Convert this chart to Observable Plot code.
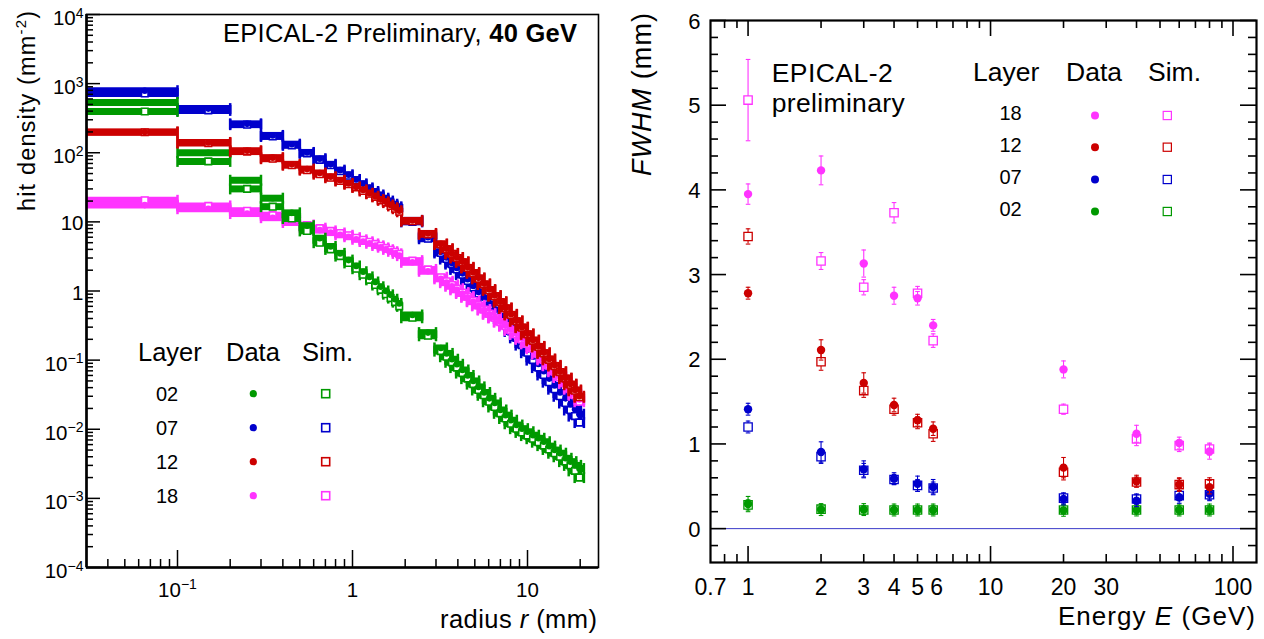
<!DOCTYPE html>
<html><head><meta charset="utf-8">
<script src="https://cdn.jsdelivr.net/npm/d3@7"></script>
<script src="https://cdn.jsdelivr.net/npm/@observablehq/plot@0.6"></script>
<style>
html,body{margin:0;padding:0;background:#fff;}
#wrap{position:relative;width:1264px;height:639px;overflow:hidden;}
#wrap svg{position:absolute;top:0;}
</style></head><body><div id="wrap"></div>
<script>
// ---------- categories ----------
const layers = ["02", "07", "12", "18"];
const layerColors = ["#009900", "#0000cc", "#cc0000", "#ff33ff"];

// ---------- left panel: hit density vs radius (40 GeV) ----------
const radius = [0.065,0.15,0.25,0.35,0.45,0.55,0.65,0.75,0.85,0.95,1.05,1.15,1.25,1.35,1.45,1.55,1.65,1.75,1.85,2.2,2.7,3.2,3.45,3.7,3.95,4.25,4.55,4.9,5.25,5.65,6.05,6.5,7.0,7.5,8.05,8.65,9.3,10.0,10.75,11.55,12.4,13.3,14.3,15.35,16.5,17.6,18.7,19.8];
const radiusHalfWidth = [0.035,0.05,0.05,0.05,0.05,0.05,0.05,0.05,0.05,0.05,0.05,0.05,0.05,0.05,0.05,0.05,0.05,0.05,0.05,0.3,0.3,0.26,0.28,0.3,0.32,0.34,0.36,0.39,0.42,0.45,0.48,0.52,0.56,0.6,0.64,0.69,0.74,0.8,0.86,0.92,0.99,1.06,1.14,1.23,1.32,1.4,1.5,1.2];

const density02Data = [535,100,40,22,13.5,8.8,5.8,4.4,3.5,2.8,2.3,1.9,1.6,1.35,1.15,1.0,0.88,0.76,0.66,0.45,0.25,0.15,0.125,0.103,0.087,0.072,0.06,0.05,0.041,0.034,0.028,0.024,0.019,0.016,0.0135,0.0115,0.0102,0.0092,0.0082,0.0074,0.0066,0.0057,0.005,0.0045,0.0038,0.0034,0.003,0.0027];
const density02Sim = [395,75,30,16.6,11.2,7.4,5.0,4.0,3.2,2.55,2.1,1.72,1.45,1.22,1.04,0.9,0.79,0.69,0.6,0.41,0.225,0.135,0.112,0.093,0.078,0.065,0.054,0.045,0.037,0.031,0.025,0.021,0.017,0.0143,0.012,0.0102,0.009,0.0081,0.0073,0.0065,0.0058,0.0051,0.0045,0.004,0.0034,0.003,0.0025,0.002];
const density07Data = [790,435,262,178,133,101,82,68,56,48,41,35.5,31,27.5,24.5,22,20,18,16.5,10.5,6.0,3.7,3.05,2.55,2.15,1.8,1.48,1.18,0.97,0.79,0.65,0.53,0.43,0.35,0.285,0.23,0.18,0.142,0.112,0.088,0.069,0.054,0.043,0.034,0.028,0.023,0.0195,0.0165];
const density07Sim = [720,410,255,172,128,98,79,66,54,46.5,40,34.5,30,26.5,23.5,21,19,17.2,15.8,10.0,5.7,3.55,2.9,2.45,2.05,1.72,1.4,1.12,0.92,0.75,0.61,0.5,0.4,0.325,0.26,0.21,0.165,0.128,0.1,0.078,0.061,0.048,0.038,0.03,0.024,0.019,0.0155,0.0125];
const density12Data = [200,141,107,85,68,58,51,45,40,36,32,29,26,23.5,21,19.5,17.5,16,14.5,10.5,6.8,4.8,4.1,3.5,3.05,2.65,2.2,1.85,1.55,1.27,1.05,0.86,0.70,0.57,0.46,0.37,0.30,0.24,0.195,0.158,0.128,0.104,0.084,0.068,0.055,0.045,0.037,0.030];
const density12Sim = [198,138,104,82,66,56,49,43.5,39,35,31.5,28,25.5,23,20.5,19,17,15.5,14,10.2,6.6,4.7,4.0,3.45,3.0,2.6,2.15,1.8,1.5,1.24,1.02,0.84,0.69,0.56,0.45,0.365,0.295,0.236,0.19,0.155,0.125,0.101,0.082,0.067,0.054,0.044,0.036,0.029];
const density18Data = [17.5,15.5,13.2,11.5,9.8,8.4,7.6,7.0,6.5,6.1,5.6,5.2,4.9,4.55,4.3,4.0,3.75,3.5,3.25,2.6,1.93,1.5,1.32,1.17,1.04,0.92,0.81,0.70,0.61,0.53,0.46,0.41,0.36,0.315,0.275,0.24,0.205,0.178,0.152,0.126,0.105,0.085,0.07,0.058,0.048,0.039,0.032,0.027];
const density18Sim = [20.5,17,14.5,12.5,10.6,9.0,8.1,7.4,6.9,6.4,5.9,5.5,5.15,4.8,4.5,4.2,3.95,3.7,3.45,2.75,2.05,1.58,1.38,1.22,1.08,0.95,0.83,0.72,0.62,0.54,0.47,0.41,0.355,0.31,0.27,0.235,0.2,0.172,0.146,0.122,0.101,0.083,0.068,0.056,0.046,0.038,0.031,0.025];

// ---------- right panel: FWHM vs energy ----------
const energy = [1, 2, 3, 4, 5, 5.8, 20, 40, 60, 80];
const fwhm02Data = [0.29,0.225,0.225,0.22,0.22,0.22,0.216,0.22,0.22,0.22];
const fwhm02DataErr = [0.09,0.07,0.07,0.07,0.07,0.07,0.07,0.07,0.07,0.07];
const fwhm02Sim = [0.28,0.23,0.22,0.22,0.22,0.22,0.22,0.22,0.22,0.22];
const fwhm02SimErr = [0.06,0.05,0.05,0.05,0.05,0.05,0.05,0.05,0.05,0.05];
const fwhm07Data = [1.41,0.905,0.70,0.59,0.53,0.49,0.35,0.33,0.37,0.41];
const fwhm07DataErr = [0.07,0.12,0.10,0.07,0.09,0.09,0.07,0.07,0.07,0.08];
const fwhm07Sim = [1.20,0.85,0.69,0.58,0.51,0.48,0.36,0.35,0.39,0.40];
const fwhm07SimErr = [0.07,0.08,0.08,0.06,0.07,0.07,0.06,0.06,0.06,0.06];
const fwhm12Data = [2.78,2.11,1.72,1.46,1.28,1.18,0.72,0.56,0.52,0.49];
const fwhm12DataErr = [0.07,0.12,0.12,0.08,0.07,0.08,0.12,0.07,0.08,0.08];
const fwhm12Sim = [3.45,1.97,1.63,1.41,1.25,1.12,0.665,0.55,0.52,0.53];
const fwhm12SimErr = [0.09,0.10,0.08,0.07,0.07,0.09,0.09,0.06,0.07,0.07];
const fwhm18Data = [3.95,4.23,3.13,2.75,2.72,2.40,1.88,1.12,1.01,0.91];
const fwhm18DataErr = [0.12,0.17,0.16,0.10,0.08,0.07,0.10,0.10,0.07,0.09];
const fwhm18Sim = [5.06,3.16,2.85,3.73,2.78,2.22,1.41,1.06,0.98,0.94];
const fwhm18SimErr = [0.48,0.10,0.09,0.12,0.08,0.08,0.06,0.08,0.07,0.07];

// ---------- tick labels ----------
const xTicksLeft = [0.1, 1, 10];
const xTickLabelsLeft = ["10^\u22121", "1", "10"];
const yTicksLeft = [1e-4, 1e-3, 1e-2, 1e-1, 1, 10, 1e2, 1e3, 1e4];
const yTickLabelsLeft = ["10^\u22124","10^\u22123","10^\u22122","10^\u22121","1","10","10^2","10^3","10^4"];
const xTicksRight = [0.7, 1, 2, 3, 4, 5, 6, 10, 20, 30, 100];
const xTickLabelsRight = ["0.7","1","2","3","4","5","6","10","20","30","100"];
const yTicksRight = [0, 1, 2, 3, 4, 5, 6];
const yTickLabelsRight = ["0","1","2","3","4","5","6"];

// ---------- build tables ----------
const FONT = '"Liberation Sans", Arial, Helvetica, sans-serif';
const densityData = [density02Data, density07Data, density12Data, density18Data];
const densitySim = [density02Sim, density07Sim, density12Sim, density18Sim];
const leftRows = [];
layers.forEach((layer, li) => {
  [["data", densityData[li]], ["sim", densitySim[li]]].forEach(([kind, vals]) => {
    vals.forEach((v, i) => leftRows.push({layer, kind, r: radius[i],
      lo: radius[i] - radiusHalfWidth[i], hi: radius[i] + radiusHalfWidth[i], v}));
  });
});
const fwhmData = [fwhm02Data, fwhm07Data, fwhm12Data, fwhm18Data];
const fwhmDataErr = [fwhm02DataErr, fwhm07DataErr, fwhm12DataErr, fwhm18DataErr];
const fwhmSim = [fwhm02Sim, fwhm07Sim, fwhm12Sim, fwhm18Sim];
const fwhmSimErr = [fwhm02SimErr, fwhm07SimErr, fwhm12SimErr, fwhm18SimErr];
const rightRows = [];
layers.forEach((layer, li) => {
  [["data", fwhmData[li], fwhmDataErr[li]], ["sim", fwhmSim[li], fwhmSimErr[li]]].forEach(([kind, vals, errs]) => {
    vals.forEach((v, i) => rightRows.push({layer, kind, E: energy[i], v, lo: v - errs[i], hi: v + errs[i]}));
  });
});
const colorOf = l => layerColors[layers.indexOf(l)];

const vcap = {draw(ctx, size) { const h = Math.sqrt(size / Math.PI); ctx.moveTo(0, -h); ctx.lineTo(0, h); }};
const hcap = {draw(ctx, size) { const h = Math.sqrt(size / Math.PI); ctx.moveTo(-h, 0); ctx.lineTo(h, 0); }};

// ---------- left plot ----------
const LX = [0.0302, 25.45], LY = [1e-4, 1e4];
const LFW = 512, LFH = 553;
const leftMarks = [];
for (const l of ["07", "18", "02", "12"]) {
  const c = colorOf(l);
  const sim = leftRows.filter(d => d.layer === l && d.kind === "sim");
  const dat = leftRows.filter(d => d.layer === l && d.kind === "data");
  const both = sim.concat(dat);
  leftMarks.push(
    Plot.ruleY(sim, {y: "v", x1: "lo", x2: "hi", stroke: c, strokeWidth: 7, clip: true}),
    Plot.ruleY(dat, {y: "v", x1: "lo", x2: "hi", stroke: c, strokeWidth: 7, clip: true}),
    Plot.dot(both, {x: "lo", y: "v", symbol: vcap, r: 5.5, fill: "none", stroke: c, strokeWidth: 2.5, clip: true}),
    Plot.dot(both, {x: "hi", y: "v", symbol: vcap, r: 5.5, fill: "none", stroke: c, strokeWidth: 2.5, clip: true}),
    Plot.dot(sim, {x: "r", y: "v", symbol: "square", r: 3.7, fill: "white", stroke: c, strokeWidth: 1.6}),
    Plot.dot(dat, {x: "r", y: "v", r: 3.3, fill: c})
  );
}
const xMinorLeft = [0.04,0.05,0.06,0.07,0.08,0.09,0.2,0.3,0.4,0.5,0.6,0.7,0.8,0.9,2,3,4,5,6,7,8,9,20];
const yMinorLeft = [];
for (let e = -4; e < 4; e++) for (let m = 2; m <= 9; m++) yMinorLeft.push(m * Math.pow(10, e));
const xLabLeft = xTicksLeft.map((v, i) => ({v, label: xTickLabelsLeft[i]}));
const yLabLeft = yTicksLeft.map((v, i) => ({v, label: yTickLabelsLeft[i]}));

const leftSvg = Plot.plot({
  width: 620, height: 639,
  marginLeft: 86, marginRight: 22, marginTop: 14, marginBottom: 72,
  style: {fontFamily: FONT, background: "transparent", color: "black", overflow: "visible"},
  x: {type: "log", domain: LX, axis: null},
  y: {type: "log", domain: LY, axis: null},
  marks: [
    ...leftMarks,
    Plot.tickX(xTicksLeft, {x: d => d, insetTop: LFH - 17, stroke: "black", strokeWidth: 1.5}),
    Plot.tickX(xMinorLeft, {x: d => d, insetTop: LFH - 8, stroke: "black", strokeWidth: 1.5}),
    Plot.tickY(yTicksLeft, {y: d => d, insetRight: LFW - 14, stroke: "black", strokeWidth: 1.5}),
    Plot.tickY(yMinorLeft, {y: d => d, insetRight: LFW - 7, stroke: "black", strokeWidth: 1.5}),
    Plot.frame({stroke: "black", strokeWidth: 1.6}),
    Plot.ruleX([LX[0]], {stroke: "black", strokeWidth: 2.6}),
    Plot.ruleY([LY[0]], {stroke: "black", strokeWidth: 2.6}),
    Plot.text(xLabLeft, {x: "v", text: "label", frameAnchor: "bottom", lineAnchor: "bottom", dy: 29, fontSize: 20.5, fill: "black"}),
    Plot.text(yLabLeft.filter(d => !d.label.includes("^")), {y: "v", text: "label", frameAnchor: "left", textAnchor: "end", lineAnchor: "bottom", dx: -3, dy: 8.5, fontSize: 20.5, fill: "black"}),
    Plot.text(yLabLeft.filter(d => d.label.includes("^")), {y: "v", text: "label", frameAnchor: "left", textAnchor: "end", lineAnchor: "bottom", dx: -3, dy: 10.5, fontSize: 20.5, fill: "black"})
  ]
});

// superscripts in tick labels
leftSvg.querySelectorAll("text").forEach(t => {
  const s = t.textContent; const k = s.indexOf("^");
  if (k < 0) return;
  t.textContent = s.slice(0, k);
  const ts = document.createElementNS("http://www.w3.org/2000/svg", "tspan");
  ts.setAttribute("dy", "-7.5"); ts.setAttribute("font-size", "14");
  ts.textContent = s.slice(k + 1);
  t.appendChild(ts);
});

// ---------- right plot ----------
const RX = [0.7, 125], RY = [-0.4, 6];
const RFW = 546, RFH = 542;
const rightMarks = [Plot.ruleY([0], {stroke: "#3a3ac8", strokeWidth: 1})];
for (const l of layers) {
  const c = colorOf(l);
  for (const kind of ["sim", "data"]) {
    const rows = rightRows.filter(d => d.layer === l && d.kind === kind);
    rightMarks.push(
      Plot.ruleX(rows, {x: "E", y1: "lo", y2: "hi", stroke: c, strokeWidth: 1.1}),
      Plot.dot(rows, {x: "E", y: "lo", symbol: hcap, r: 2.3, fill: "none", stroke: c, strokeWidth: 1.1}),
      Plot.dot(rows, {x: "E", y: "hi", symbol: hcap, r: 2.3, fill: "none", stroke: c, strokeWidth: 1.1}),
      kind === "sim"
        ? Plot.dot(rows, {x: "E", y: "v", symbol: "square", r: 4.7, fill: "white", stroke: c, strokeWidth: 1.3})
        : Plot.dot(rows, {x: "E", y: "v", r: 4.2, fill: c})
    );
  }
}
const xMajorRight = [1, 10, 100];
const xMinorRight = [0.8,0.9,2,3,4,5,6,7,8,9,20,30,40,50,60,70,80,90];
const yMinorRight = d3.range(-1, 30).filter(i => i % 5 !== 0).map(i => i / 5);
const xLabRight = xTicksRight.map((v, i) => ({v, label: xTickLabelsRight[i]}));
const yLabRight = yTicksRight.map((v, i) => ({v, label: yTickLabelsRight[i]}));

const rightSvg = Plot.plot({
  width: 644, height: 639,
  marginLeft: 90, marginRight: 8, marginTop: 20, marginBottom: 77,
  style: {fontFamily: FONT, background: "transparent", color: "black", overflow: "visible"},
  x: {type: "log", domain: RX, axis: null},
  y: {domain: RY, axis: null},
  marks: [
    ...rightMarks,
    Plot.tickX(xMajorRight, {x: d => d, insetTop: RFH - 16, stroke: "black", strokeWidth: 1.6}),
    Plot.tickX(xMinorRight, {x: d => d, insetTop: RFH - 8, stroke: "black", strokeWidth: 1.6}),
    Plot.tickX(xMajorRight, {x: d => d, insetBottom: RFH - 16, stroke: "black", strokeWidth: 1.6}),
    Plot.tickX(xMinorRight, {x: d => d, insetBottom: RFH - 8, stroke: "black", strokeWidth: 1.6}),
    Plot.tickY(yTicksRight, {y: d => d, insetRight: RFW - 16, stroke: "black", strokeWidth: 1.6}),
    Plot.tickY(yMinorRight, {y: d => d, insetRight: RFW - 8, stroke: "black", strokeWidth: 1.6}),
    Plot.tickY(yTicksRight, {y: d => d, insetLeft: RFW - 16, stroke: "black", strokeWidth: 1.6}),
    Plot.tickY(yMinorRight, {y: d => d, insetLeft: RFW - 8, stroke: "black", strokeWidth: 1.6}),
    Plot.frame({stroke: "black", strokeWidth: 2.2}),
    Plot.text(xLabRight, {x: "v", text: "label", frameAnchor: "bottom", lineAnchor: "bottom", dy: 32, fontSize: 23, fill: "black"}),
    Plot.text(yLabRight, {y: "v", text: "label", frameAnchor: "left", textAnchor: "end", lineAnchor: "bottom", dx: -10, dy: 8, fontSize: 22, fill: "black"})
  ]
});

const wrap = document.getElementById("wrap");
leftSvg.style.left = "0px";
rightSvg.style.left = "620px";
wrap.appendChild(leftSvg);
wrap.appendChild(rightSvg);

// ---------- titles, annotations and legends ----------
const leftLegendY = [401, 435, 469, 503];      // rows 02,07,12,18
const rightLegendOrder = ["18", "12", "07", "02"];
const rightLegendY = [120, 151.7, 184, 216];
let leg = "";
layers.forEach((l, i) => {
  const y = leftLegendY[i], c = layerColors[i];
  leg += `<text x="167" y="${y}" font-size="20" text-anchor="middle">${l}</text>`;
  leg += `<circle cx="253.3" cy="${y - 7.3}" r="3.6" fill="${c}"/>`;
  leg += `<rect x="321.7" y="${y - 11.3}" width="8" height="8" fill="none" stroke="${c}" stroke-width="1.6"/>`;
});
rightLegendOrder.forEach((l, i) => {
  const y = rightLegendY[i], c = colorOf(l);
  leg += `<text x="1010.5" y="${y}" font-size="20" text-anchor="middle">${l}</text>`;
  leg += `<circle cx="1095" cy="${y - 4.5}" r="4" fill="${c}"/>`;
  leg += `<rect x="1163.2" y="${y - 8.6}" width="8.2" height="8.2" fill="none" stroke="${c}" stroke-width="1.2"/>`;
});
const overlay = `<svg width="1264" height="639" style="left:0;top:0" font-family='${FONT}' fill="black">
<text x="577" y="42" font-size="25.5" text-anchor="end" textLength="354" lengthAdjust="spacing">EPICAL-2 Preliminary, <tspan font-weight="bold">40 GeV</tspan></text>
<text transform="translate(35,211) rotate(-90)" font-size="23.5" textLength="200" lengthAdjust="spacing">hit density (mm<tspan dy="-9" font-size="15">-2</tspan><tspan dy="9">)</tspan></text>
<text x="597" y="628" font-size="25.5" text-anchor="end" textLength="157" lengthAdjust="spacing">radius <tspan font-style="italic">r</tspan> (mm)</text>
<text x="138" y="361" font-size="25.5">Layer</text>
<text x="226" y="361" font-size="25.5">Data</text>
<text x="302" y="361" font-size="25.5">Sim.</text>
<text x="771.7" y="81.7" font-size="26.5" textLength="121" lengthAdjust="spacing">EPICAL-2</text>
<text x="771.7" y="111.7" font-size="26.5" textLength="133" lengthAdjust="spacing">preliminary</text>
<text x="973" y="81" font-size="26.5">Layer</text>
<text x="1066" y="81" font-size="26.5">Data</text>
<text x="1148" y="81" font-size="26.5">Sim.</text>
<text transform="translate(651,13) rotate(-90)" font-size="27" text-anchor="end" textLength="163" lengthAdjust="spacing"><tspan font-style="italic">FWHM</tspan> (mm)</text>
<text x="1255" y="625" font-size="26" text-anchor="end" textLength="197" lengthAdjust="spacing">Energy <tspan font-style="italic">E</tspan> (GeV)</text>
${leg}
</svg>`;
wrap.insertAdjacentHTML("beforeend", overlay);
</script>
</body></html>
